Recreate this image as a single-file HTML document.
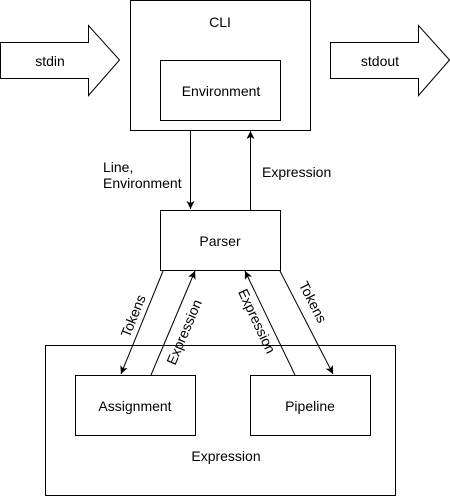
<!DOCTYPE html>
<html><head><meta charset="utf-8"><style>
html,body{margin:0;padding:0;background:#fff;}
svg{display:block;}
text{font-family:"Liberation Sans",Helvetica,Arial,sans-serif;font-size:14px;fill:#000;}
</style></head><body>
<svg width="450" height="496" viewBox="0 0 450 496" xmlns="http://www.w3.org/2000/svg">
<defs>
<marker id="a" markerWidth="10" markerHeight="10" refX="8" refY="4" orient="auto" markerUnits="userSpaceOnUse">
<path d="M0,0 L8,4 L0,8 L2,4 Z" fill="#000"/>
</marker>
</defs>
<g fill="#fff" stroke="#000" stroke-width="1">
<path d="M0.5,42.5 H88.5 V25.5 L119.5,60 L88.5,95.5 V78.5 H0.5 Z"/>
<path d="M330.5,42.5 H418.5 V25.5 L449.5,60 L418.5,95.5 V78.5 H330.5 Z"/>
<rect x="130.5" y="0.5" width="180" height="130"/>
<rect x="160.5" y="60.5" width="120" height="60"/>
<rect x="160.5" y="210.5" width="120" height="60"/>
<rect x="45.5" y="345.5" width="350" height="150"/>
<rect x="75.5" y="375.5" width="120" height="60"/>
<rect x="250.5" y="375.5" width="120" height="60"/>
</g>
<g stroke="#000" stroke-width="1" fill="none">
<line x1="190.5" y1="130" x2="190.5" y2="209" marker-end="url(#a)"/>
<line x1="250.5" y1="210" x2="250.5" y2="131" marker-end="url(#a)"/>
<line x1="163" y1="271" x2="121" y2="374" marker-end="url(#a)"/>
<line x1="151" y1="375" x2="195" y2="271" marker-end="url(#a)"/>
<line x1="295" y1="375" x2="245" y2="271" marker-end="url(#a)"/>
<line x1="280" y1="271" x2="333" y2="374" marker-end="url(#a)"/>
</g>
<text x="50" y="66" text-anchor="middle">stdin</text>
<text x="380" y="66" text-anchor="middle">stdout</text>
<text x="220" y="27" text-anchor="middle">CLI</text>
<text x="221" y="96" text-anchor="middle">Environment</text>
<text x="220" y="246" text-anchor="middle">Parser</text>
<text x="135" y="411" text-anchor="middle">Assignment</text>
<text x="310" y="411" text-anchor="middle">Pipeline</text>
<text x="226" y="461" text-anchor="middle">Expression</text>
<text x="103" y="172">Line,</text>
<text x="103" y="188">Environment</text>
<text x="262" y="177">Expression</text>
<text transform="translate(133,316) rotate(-68)" text-anchor="middle" dy="5">Tokens</text>
<text transform="translate(184,332) rotate(-67)" text-anchor="middle" dy="5">Expression</text>
<text transform="translate(257,321) rotate(65)" text-anchor="middle" dy="5">Expression</text>
<text transform="translate(313,302) rotate(63)" text-anchor="middle" dy="5">Tokens</text>
</svg>
</body></html>
